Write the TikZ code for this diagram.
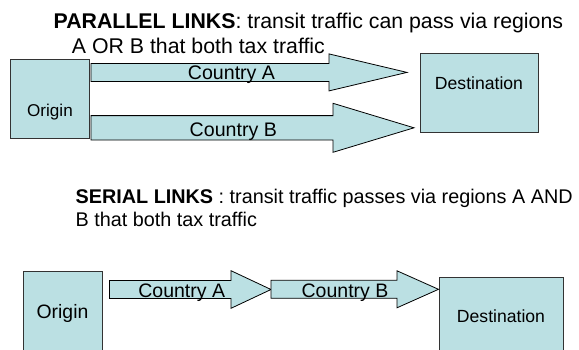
\documentclass[tikz,border=0pt]{standalone}
\usepackage{fontspec}
\setmainfont{Liberation Sans}
\definecolor{boxfill}{HTML}{BBE0E3}
\tikzset{
  box/.style={draw=black!80, fill=boxfill, line width=0.8pt, inner sep=0pt},
  arrowbody/.style={draw=black, fill=boxfill, line width=0.8pt, line join=miter},
  lbl/.style={inner sep=0pt, anchor=base},
  title/.style={inner sep=0pt, anchor=base west},
}
% block arrow: #1 left x, #2 head base x, #3 tip x, #4 centre y, #5 shaft half height, #6 head half height
\newcommand\blockarr[6]{%
  \draw[arrowbody] (#1,{#4-#5}) -- (#2,{#4-#5}) -- (#2,{#4-#6}) -- (#3,#4)
    -- (#2,{#4+#6}) -- (#2,{#4+#5}) -- (#1,{#4+#5}) -- cycle;}
\begin{document}
\begin{tikzpicture}[x=1pt,y=-1pt]
\useasboundingbox (0,0) rectangle (579,349);
\clip (0,0) rectangle (579,349);

% ---- parallel links ----
\node[box, minimum width=79pt, minimum height=79pt] (orig1) at (49.6,99) {};
\node[box, minimum width=118pt, minimum height=79pt] (dest1) at (479,92.5) {};
\node[lbl, font=\fontsize{17.1}{20}\selectfont] (orig1t) at (50,116.6) {Origin};
\node[lbl, font=\fontsize{17.6}{20}\selectfont] (dest1t) at (479,89.6) {Destination};

\blockarr{91}{329}{407}{72.4}{9}{18.5}
\blockarr{91}{333}{414}{127.8}{12.2}{24.5}
\node[lbl, font=\fontsize{19.6}{20}\selectfont] (ca1) at (231.5,79.5) {Country A};
\node[lbl, font=\fontsize{19.6}{20}\selectfont] (cb1) at (233.3,136) {Country B};

\node[title, font=\fontsize{21.3}{24}\selectfont] (t1a) at (53.5,28.3)
  {\textbf{PARALLEL LINKS}: transit traffic can pass via regions};
\node[title, font=\fontsize{21.3}{24}\selectfont] (t1b) at (71.7,53.3)
  {A OR B that both tax traffic};

% ---- serial links ----
\node[title, font=\fontsize{19.8}{24}\selectfont] (t2a) at (75.5,203.3)
  {\textbf{SERIAL LINKS} : transit traffic passes via regions A AND};
\node[title, font=\fontsize{19.8}{24}\selectfont] (t2b) at (75.5,226.9)
  {B that both tax traffic};

\node[box, anchor=north west, minimum width=79pt, minimum height=100pt] (orig2) at (22.7,270.7) {};
\node[box, anchor=north west, minimum width=124pt, minimum height=100pt] (dest2) at (439.3,276.7) {};
\node[lbl, font=\fontsize{19.4}{20}\selectfont] (orig2t) at (62.5,318.2) {Origin};
\node[lbl, font=\fontsize{17.6}{20}\selectfont] (dest2t) at (501,322.6) {Destination};

\blockarr{109.5}{231}{271}{289.5}{9}{18.8}
\blockarr{271}{397}{438.5}{289.3}{9}{18.5}
\node[lbl, font=\fontsize{19.5}{20}\selectfont] (ca2) at (181.7,297.4) {Country A};
\node[lbl, font=\fontsize{19.5}{20}\selectfont] (cb2) at (345,297.3) {Country B};
\end{tikzpicture}
\end{document}
